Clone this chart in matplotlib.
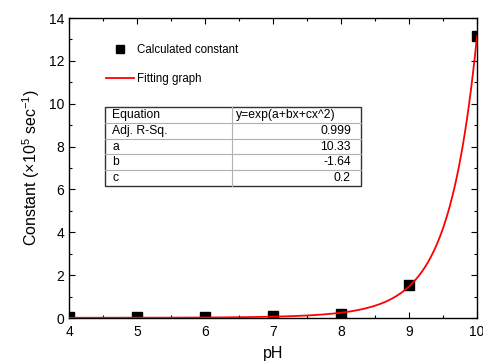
import numpy as np
import matplotlib
matplotlib.use("Agg")
import matplotlib.pyplot as plt
from matplotlib.ticker import MultipleLocator
from matplotlib.patches import Rectangle

plt.rcParams['font.family'] = ['Liberation Sans', 'DejaVu Sans']
plt.rcParams['mathtext.fontset'] = 'custom'
plt.rcParams['mathtext.rm'] = 'Liberation Sans'

# measured rate constants (x10^5 sec^-1)
ph = [4, 5, 6, 7, 8, 9, 10]
constant = [0.03, 0.03, 0.04, 0.10, 0.20, 1.52, 13.18]

# fit parameters for y = exp(a + b*x + c*x^2), y in sec^-1
fit_a = 10.33
fit_b = -1.64
fit_c = 0.2016

table_labels = ["Equation", "Adj. R-Sq.", "a", "b", "c"]
table_values = ["y=exp(a+bx+cx^2)", "0.999", "10.33", "-1.64", "0.2"]

fig = plt.figure(figsize=(4.83, 3.62), dpi=100)
ax = fig.add_axes([69/483, 1 - 318/362, 408/483, 300/362])

xf = np.linspace(4, 10, 400)
yf = np.exp(fit_a + fit_b * xf + fit_c * xf**2) / 1e5

ax.plot(ph, constant, 's', color='black', markersize=7, label='Calculated constant', zorder=3)
ax.plot(xf, yf, '-', color='red', lw=1.3, label='Fitting graph', zorder=4)

ax.set_xlim(4, 10)
ax.set_ylim(0, 14)
ax.xaxis.set_major_locator(MultipleLocator(1))
ax.xaxis.set_minor_locator(MultipleLocator(0.5))
ax.yaxis.set_major_locator(MultipleLocator(2))
ax.yaxis.set_minor_locator(MultipleLocator(1))
ax.tick_params(which='both', direction='in', top=True, right=True, labelsize=10)
ax.tick_params(which='major', length=4, width=0.8)
ax.tick_params(which='minor', length=2.5, width=0.8)
ax.tick_params(axis='x', pad=5)
for s in ax.spines.values():
    s.set_linewidth(1.0)

ax.set_xlabel('pH', fontsize=11.5, labelpad=5)
ax.set_ylabel(r'Constant ($\times$10$^5$ sec$^{-1}$)', fontsize=11.5, labelpad=5)

leg = ax.legend(loc='upper left', bbox_to_anchor=(0.08, 0.93), frameon=False,
                fontsize=8.3, handlelength=2.4, handletextpad=0.25, labelspacing=1.55,
                borderaxespad=0, markerscale=0.85)

# parameter table
x0, x1 = 0.088, 0.716
y0, y1 = 0.44, 0.703
split = x0 + 0.496 * (x1 - x0)
nrow = len(table_labels)
rh = (y1 - y0) / nrow
for i in range(1, nrow):
    yy = y1 - i * rh
    ax.plot([x0, x1], [yy, yy], transform=ax.transAxes, color='#b0b0b0', lw=0.8, zorder=5)
ax.plot([split, split], [y0, y1], transform=ax.transAxes, color='#b0b0b0', lw=0.8, zorder=5)
ax.add_patch(Rectangle((x0, y0), x1 - x0, y1 - y0, transform=ax.transAxes,
                       facecolor='white', edgecolor='#333333', lw=1.0, zorder=4.5))
for i, (lab, val) in enumerate(zip(table_labels, table_values)):
    yc = y1 - (i + 0.5) * rh
    ax.text(x0 + 0.018, yc, lab, transform=ax.transAxes, fontsize=8.7,
            va='center', ha='left', zorder=6)
    if i == 0:
        ax.text(split + 0.01, yc, val, transform=ax.transAxes, fontsize=8.7,
                va='center', ha='left', zorder=6)
    else:
        ax.text(x1 - 0.025, yc, val, transform=ax.transAxes, fontsize=8.7,
                va='center', ha='right', zorder=6)

fig.savefig('out.png', dpi=100)
